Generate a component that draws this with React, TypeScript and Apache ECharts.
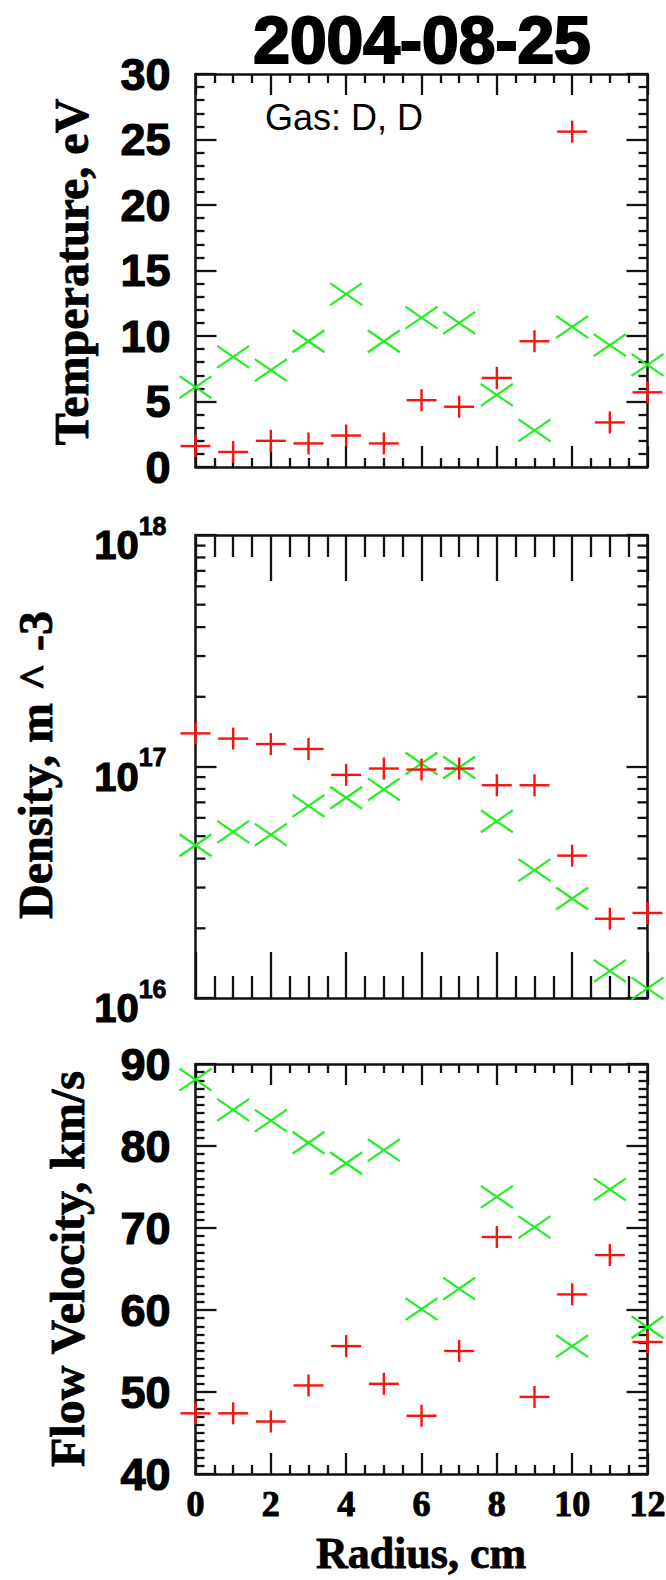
import React, { useEffect, useRef } from 'react';
import * as echarts from 'echarts';

// ---- data ----
const radius = [0, 1, 2, 3, 4, 5, 6, 7, 8, 9, 10, 11, 12];
const temperatureRed = [1.6, 1.15, 2.0, 1.8, 2.4, 1.8, 5.1, 4.6, 6.8, 9.6, 25.6, 3.4, 5.7];
const temperatureGreen = [6.1, 8.4, 7.4, 9.6, 13.2, 9.6, 11.4, 11.0, 5.5, 2.8, 10.7, 9.3, 7.8];
const densityRed = [1.39e17, 1.32e17, 1.25e17, 1.19e17, 9.2e16, 9.8e16, 9.7e16, 9.8e16, 8.3e16, 8.3e16, 4.12e16, 2.2e16, 2.33e16];
const densityGreen = [4.57e16, 5.22e16, 5.08e16, 6.76e16, 7.33e16, 7.96e16, 1.03e17, 9.9e16, 5.8e16, 3.57e16, 2.69e16, 1.31e16, 1.1e16];
const velocityRed = [47.4, 47.4, 46.4, 50.8, 55.6, 51.0, 47.1, 55.0, 68.9, 49.4, 61.9, 66.7, 56.1];
const velocityGreen = [88.1, 84.4, 83.1, 80.4, 77.9, 79.5, 60.1, 62.6, 73.8, 70.1, 55.6, 74.7, 57.9];
const densityMinorTicks = [
  2e16, 3e16, 4e16, 5e16, 6e16, 7e16, 8e16, 9e16,
  2e17, 3e17, 4e17, 5e17, 6e17, 7e17, 8e17, 9e17,
];
const titleText = '2004-08-25';
const gasText = 'Gas: D, D';
const yTitles = ['Temperature, eV', 'Density, m ^ -3', 'Flow Velocity, km/s'];
const xTitle = 'Radius, cm';

const SANS = '"Liberation Sans", Arial, Helvetica, sans-serif';
const SERIF = '"Liberation Serif", "Times New Roman", serif';
const RED = '#ff1010';
const GREEN = '#22ee22';
const INK = '#111';

const grids = [
  { left: 195.5, top: 74, width: 452, height: 393 },
  { left: 195.5, top: 535, width: 452, height: 463 },
  { left: 195.5, top: 1064, width: 452, height: 410 },
];

function xAxesFor(g: number, majorLen: number, minorLen: number, showLabels: boolean) {
  const common = {
    type: 'value',
    gridIndex: g,
    min: 0,
    max: 12,
    interval: 2,
    axisLine: { show: true, onZero: false, lineStyle: { color: INK, width: 2.5 } },
    axisTick: { show: true, inside: true, length: majorLen, lineStyle: { color: INK, width: 2.3 } },
    minorTick: { show: true, splitNumber: 4, length: minorLen, lineStyle: { color: INK, width: 2.3 } },
    splitLine: { show: false },
    minorSplitLine: { show: false },
  };
  return [
    {
      ...common,
      position: 'bottom',
      axisLabel: showLabels
        ? {
            show: true,
            margin: 12,
            fontFamily: SERIF,
            fontWeight: 'bold',
            fontSize: 36,
            color: '#000',
            textBorderColor: '#000',
            textBorderWidth: 1,
            showMinLabel: true,
            showMaxLabel: true,
            hideOverlap: false,
          }
        : { show: false },
    },
    { ...common, position: 'top', axisLabel: { show: false } },
  ];
}

function yAxesFor(g: number, extra: any, label: any) {
  const common = {
    gridIndex: g,
    axisLine: { show: true, onZero: false, lineStyle: { color: INK, width: 2.5 } },
    axisTick: { show: true, inside: true, length: 21, lineStyle: { color: INK, width: 2.3 } },
    splitLine: { show: false },
    minorSplitLine: { show: false },
    ...extra,
  };
  return [
    { ...common, position: 'left', axisLabel: label },
    { ...common, position: 'right', axisLabel: { show: false } },
  ];
}

function markerSeries(kind: 'plus' | 'cross', color: string, g: number, xs: number[], ys: number[]) {
  return {
    type: 'custom',
    xAxisIndex: 2 * g,
    yAxisIndex: 2 * g,
    clip: false,
    silent: true,
    encode: { x: 0, y: 1 },
    data: xs.map((x, i) => [x, ys[i]]),
    renderItem: (params: any, api: any) => {
      const p = api.coord([api.value(0), api.value(1)]);
      const style = { stroke: color, lineWidth: kind === 'plus' ? 2.4 : 2.2, fill: null };
      const hx = kind === 'plus' ? 15 : 16;
      const hy = 11;
      const children =
        kind === 'plus'
          ? [
              { type: 'line', shape: { x1: p[0] - hx, y1: p[1], x2: p[0] + hx, y2: p[1] }, style },
              { type: 'line', shape: { x1: p[0], y1: p[1] - hy, x2: p[0], y2: p[1] + hy }, style },
            ]
          : [
              { type: 'line', shape: { x1: p[0] - hx, y1: p[1] - hy, x2: p[0] + hx, y2: p[1] + hy }, style },
              { type: 'line', shape: { x1: p[0] - hx, y1: p[1] + hy, x2: p[0] + hx, y2: p[1] - hy }, style },
            ];
      return { type: 'group', children };
    },
  };
}

function logMinorTickSeries(g: number) {
  return {
    type: 'custom',
    xAxisIndex: 2 * g,
    yAxisIndex: 2 * g,
    clip: false,
    silent: true,
    encode: { y: 0 },
    data: densityMinorTicks.map((v) => [v]),
    renderItem: (params: any, api: any) => {
      const v = api.value(0);
      const l = api.coord([0, v]);
      const r = api.coord([12, v]);
      const style = { stroke: INK, lineWidth: 2.3 };
      return {
        type: 'group',
        children: [
          { type: 'line', shape: { x1: l[0], y1: l[1], x2: l[0] + 10, y2: l[1] }, style },
          { type: 'line', shape: { x1: r[0], y1: r[1], x2: r[0] - 10, y2: r[1] }, style },
        ],
      };
    },
  };
}

const sansLabel = (pad: number) => ({
  show: true,
  margin: 25,
  fontFamily: SANS,
  fontWeight: 'bold',
  fontSize: 45,
  color: '#000',
  textBorderColor: '#000',
  textBorderWidth: 1.2,
  padding: [pad, 0, 0, 0],
  showMinLabel: true,
  showMaxLabel: true,
  hideOverlap: false,
});

export default function App() {
  const ref = useRef<HTMLDivElement>(null);
  useEffect(() => {
    if (!ref.current) return;
    const chart = echarts.init(ref.current, undefined, { renderer: 'svg' });
    const option: any = {
      animation: false,
      grid: grids.map((g) => ({ ...g, containLabel: false, outerBoundsMode: 'none' })),
      xAxis: [...xAxesFor(0, 21, 9, false), ...xAxesFor(1, 46, 22, false), ...xAxesFor(2, 21, 9, true)],
      yAxis: [
        ...yAxesFor(
          0,
          {
            type: 'value',
            min: 0,
            max: 30,
            interval: 5,
            minorTick: { show: true, splitNumber: 5, length: 9, lineStyle: { color: INK, width: 2.3 } },
          },
          sansLabel(0)
        ),
        ...yAxesFor(
          1,
          { type: 'log', logBase: 10, min: 1e16, max: 1e18 },
          {
            show: true,
            margin: 29,
            showMinLabel: true,
            showMaxLabel: true,
            hideOverlap: false,
            padding: [8, 0, 0, 0],
            formatter: (v: number) => `{b|10}{s|${Math.round(Math.log10(v))}}`,
            rich: {
              b: {
                fontFamily: SANS, fontWeight: 'bold', fontSize: 40, color: '#000',
                textBorderColor: '#000', textBorderWidth: 1.2, padding: [12, 0, 0, 0],
              },
              s: {
                fontFamily: SANS, fontWeight: 'bold', fontSize: 25, color: '#000',
                textBorderColor: '#000', textBorderWidth: 0.8, verticalAlign: 'top',
              },
            },
          }
        ),
        ...yAxesFor(
          2,
          {
            type: 'value',
            min: 40,
            max: 90,
            interval: 10,
            minorTick: { show: true, splitNumber: 10, length: 9, lineStyle: { color: INK, width: 2.3 } },
          },
          sansLabel(6)
        ),
      ],
      series: [
        logMinorTickSeries(1),
        markerSeries('cross', GREEN, 0, radius, temperatureGreen),
        markerSeries('plus', RED, 0, radius, temperatureRed),
        markerSeries('cross', GREEN, 1, radius, densityGreen),
        markerSeries('plus', RED, 1, radius, densityRed),
        markerSeries('cross', GREEN, 2, radius, velocityGreen),
        markerSeries('plus', RED, 2, radius, velocityRed),
      ],
      graphic: [
        {
          type: 'text',
          x: 422,
          y: 40,
          style: {
            text: titleText, font: `bold 66px ${SANS}`, fill: '#000', stroke: '#000', lineWidth: 2.2,
            align: 'center', verticalAlign: 'middle',
          },
        },
        {
          type: 'text',
          x: 265,
          y: 117,
          style: { text: gasText, font: `36px ${SANS}`, fill: '#000', align: 'left', verticalAlign: 'middle' },
        },
        {
          type: 'text',
          x: 71,
          y: 272,
          rotation: Math.PI / 2,
          style: {
            text: yTitles[0], font: `bold 48px ${SERIF}`, fill: '#000', stroke: '#000', lineWidth: 0.8,
            align: 'center', verticalAlign: 'middle',
          },
        },
        {
          type: 'text',
          x: 35,
          y: 765,
          rotation: Math.PI / 2,
          style: {
            text: yTitles[1], font: `bold 48px ${SERIF}`, fill: '#000', stroke: '#000', lineWidth: 0.8,
            align: 'center', verticalAlign: 'middle',
          },
        },
        {
          type: 'text',
          x: 67,
          y: 1269,
          rotation: Math.PI / 2,
          style: {
            text: yTitles[2], font: `bold 48px ${SERIF}`, fill: '#000', stroke: '#000', lineWidth: 0.8,
            align: 'center', verticalAlign: 'middle',
          },
        },
        {
          type: 'text',
          x: 421,
          y: 1553,
          style: {
            text: xTitle, font: `bold 44px ${SERIF}`, fill: '#000', stroke: '#000', lineWidth: 0.8,
            align: 'center', verticalAlign: 'middle',
          },
        },
      ],
    };
    chart.setOption(option);
    return () => chart.dispose();
  }, []);
  return (
    <div
      ref={ref}
      style={{ position: 'absolute', left: 0, top: 0, width: 666, height: 1580, background: '#fff' }}
    />
  );
}
